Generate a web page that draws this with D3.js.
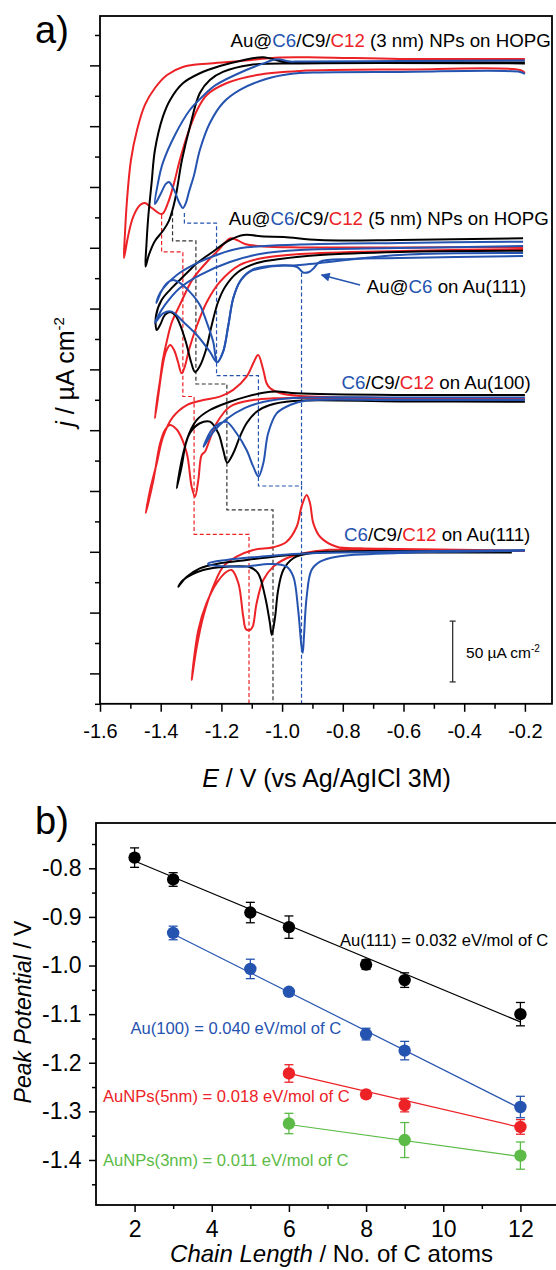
<!DOCTYPE html>
<html>
<head>
<meta charset="utf-8">
<script src="https://cdn.jsdelivr.net/npm/d3@7/dist/d3.min.js"></script>
<style>
  body { margin: 0; background: #fff; }
  text { font-family: "Liberation Sans", Arial, sans-serif; }
</style>
</head>
<body>
<div id="chart"></div>
<script>
var RED = "#ec2227", BLUE = "#2553b0", BLACK = "#000000", GREEN = "#5bbb46";

// ---------- panel a : cyclic voltammograms, [E / V, j / uA cm-2 (offset)] ----------
var nm3_C12 = [[-0.200,505.3],[-0.612,505.3],[-0.875,506.5],[-1.007,506.5],[-1.139,503.6],[-1.238,501.6],[-1.327,498.7],[-1.379,492.1],[-1.419,481.4],[-1.452,467.5],[-1.478,446.9],[-1.498,422.2],[-1.511,389.3],[-1.518,360.5],[-1.521,341.6],[-1.508,358.9],[-1.491,375.3],[-1.468,385.2],[-1.452,386.9],[-1.429,382.7],[-1.396,377.8],[-1.376,386.9],[-1.356,403.3],[-1.337,422.2],[-1.310,444.4],[-1.280,463.3],[-1.248,475.7],[-1.182,485.5],[-1.083,492.1],[-0.941,495.4],[-0.612,496.6],[-0.216,496.2],[-0.200,493.8]];
var nm3_C9 = [[-0.200,502.4],[-0.941,502.8],[-0.997,503.1],[-1.063,506.7],[-1.139,503.6],[-1.205,499.5],[-1.271,493.5],[-1.327,485.3],[-1.369,471.6],[-1.393,457.6],[-1.419,430.4],[-1.430,403.3],[-1.441,375.3],[-1.447,352.3],[-1.450,334.5],[-1.439,344.1],[-1.419,355.6],[-1.393,363.8],[-1.373,372.1],[-1.353,389.3],[-1.330,422.2],[-1.304,449.4],[-1.271,477.3],[-1.238,488.0],[-1.195,494.6],[-1.106,500.3],[-0.941,501.6],[-0.200,501.6]];
var nm3_C6 = [[-0.200,504.1],[-0.612,503.6],[-0.941,503.2],[-0.974,503.1],[-1.017,505.0],[-1.066,501.2],[-1.122,495.8],[-1.218,483.9],[-1.264,474.0],[-1.304,463.3],[-1.353,442.8],[-1.393,419.8],[-1.409,403.3],[-1.419,386.0],[-1.402,393.4],[-1.383,402.5],[-1.373,404.1],[-1.356,397.6],[-1.340,387.7],[-1.327,382.7],[-1.317,386.9],[-1.307,395.9],[-1.290,409.9],[-1.271,430.4],[-1.238,452.6],[-1.195,469.1],[-1.139,479.8],[-1.053,488.8],[-0.974,492.9],[-0.875,494.2],[-0.612,494.6],[-0.216,494.6],[-0.200,492.9]];

var nm5_C9 = [[-0.206,357.8],[-0.612,356.4],[-0.878,356.4],[-0.994,358.9],[-1.060,359.3],[-1.126,360.5],[-1.172,356.4],[-1.234,345.7],[-1.280,337.5],[-1.304,331.8],[-1.337,323.5],[-1.360,317.8],[-1.397,307.1],[-1.416,293.4],[-1.413,282.4],[-1.402,286.5],[-1.386,294.8],[-1.369,297.2],[-1.353,294.8],[-1.337,287.3],[-1.317,272.5],[-1.300,256.1],[-1.287,247.9],[-1.271,252.8],[-1.251,266.0],[-1.231,287.3],[-1.211,305.4],[-1.188,317.8],[-1.145,330.1],[-1.083,337.5],[-1.007,340.8],[-0.875,344.1],[-0.612,346.6],[-0.206,347.6]];
var nm5_C12 = [[-0.206,350.7],[-0.612,350.3],[-0.941,350.3],[-1.063,351.1],[-1.122,353.1],[-1.149,356.4],[-1.172,357.7],[-1.205,349.4],[-1.248,338.3],[-1.294,324.4],[-1.337,303.0],[-1.363,289.0],[-1.379,274.2],[-1.393,257.7],[-1.402,241.3],[-1.412,224.8],[-1.419,209.8],[-1.409,226.5],[-1.396,249.5],[-1.383,264.3],[-1.369,270.1],[-1.356,266.0],[-1.343,256.1],[-1.331,246.8],[-1.320,252.8],[-1.307,266.0],[-1.280,286.5],[-1.248,305.4],[-1.205,321.9],[-1.139,335.9],[-1.063,341.6],[-0.941,344.9],[-0.612,347.4],[-0.206,349.0]];
var nm5_C6 = [[-0.206,355.0],[-0.612,354.0],[-0.941,352.7],[-1.139,349.6],[-1.216,344.1],[-1.281,337.3],[-1.347,327.6],[-1.392,316.7],[-1.408,309.8],[-1.414,304.6],[-1.399,313.7],[-1.379,321.1],[-1.359,323.5],[-1.337,321.1],[-1.304,313.7],[-1.271,303.0],[-1.249,289.2],[-1.227,272.8],[-1.214,256.1],[-1.195,264.3],[-1.177,286.5],[-1.161,308.5],[-1.139,322.1],[-1.106,330.4],[-1.040,334.5],[-0.941,335.9],[-0.612,344.1],[-0.206,345.7]];
var sub111_C6 = [[-0.206,351.5],[-0.612,349.8],[-0.941,348.2],[-1.073,344.9],[-1.172,338.3],[-1.271,327.6],[-1.337,317.0],[-1.386,303.0],[-1.412,292.3],[-1.419,288.2],[-1.392,296.1],[-1.364,297.5],[-1.326,289.2],[-1.281,278.3],[-1.238,264.6],[-1.214,255.9],[-1.194,264.6],[-1.177,286.5],[-1.161,308.5],[-1.136,323.5],[-1.099,331.8],[-1.040,335.0],[-0.951,334.2],[-0.931,329.7],[-0.911,330.1],[-0.895,333.4],[-0.875,338.6],[-0.776,340.8],[-0.612,341.6],[-0.206,343.3]];

var au100_C12 = [[-0.200,226.1],[-0.612,226.5],[-0.941,228.1],[-1.007,230.6],[-1.040,234.7],[-1.051,238.6],[-1.062,249.5],[-1.079,261.9],[-1.095,255.0],[-1.117,244.0],[-1.161,233.1],[-1.205,227.6],[-1.260,224.8],[-1.314,220.7],[-1.359,211.1],[-1.392,194.7],[-1.413,172.8],[-1.435,150.8],[-1.449,131.9],[-1.424,159.1],[-1.402,189.2],[-1.386,200.2],[-1.369,204.3],[-1.356,202.6],[-1.342,198.8],[-1.314,181.0],[-1.298,153.5],[-1.287,145.3],[-1.276,159.1],[-1.265,179.6],[-1.254,182.3],[-1.243,189.2],[-1.216,205.7],[-1.172,219.3],[-1.095,224.8],[-1.029,226.2],[-0.612,225.7],[-0.200,225.3]];
var au100_C9 = [[-0.200,229.0],[-0.612,229.0],[-0.952,230.4],[-1.018,231.8],[-1.062,230.8],[-1.117,227.6],[-1.172,223.4],[-1.238,216.6],[-1.281,208.4],[-1.314,192.0],[-1.331,170.0],[-1.347,152.2],[-1.327,179.6],[-1.304,197.5],[-1.271,205.7],[-1.238,207.0],[-1.210,197.5],[-1.194,183.7],[-1.181,173.3],[-1.161,181.0],[-1.139,194.7],[-1.117,205.7],[-1.084,215.2],[-1.040,220.7],[-0.963,224.0],[-0.612,223.6],[-0.200,223.4]];
var au100_C6 = [[-0.200,226.9],[-0.612,226.9],[-0.964,226.5],[-1.063,223.2],[-1.122,218.3],[-1.183,209.2],[-1.227,198.5],[-1.259,186.4],[-1.232,200.2],[-1.205,205.7],[-1.183,206.8],[-1.150,197.5],[-1.117,183.7],[-1.095,170.0],[-1.078,161.9],[-1.062,172.8],[-1.046,197.5],[-1.018,213.9],[-0.974,220.7],[-0.919,224.4],[-0.612,224.8],[-0.200,224.8]];

var au111_C12 = [[-0.200,100.9],[-0.612,102.3],[-0.743,102.9],[-0.820,104.2],[-0.875,112.4],[-0.897,123.4],[-0.908,139.9],[-0.919,146.7],[-0.936,137.1],[-0.952,120.6],[-0.985,108.3],[-1.029,103.7],[-1.095,101.5],[-1.150,96.0],[-1.194,87.8],[-1.227,71.3],[-1.260,46.6],[-1.281,22.0],[-1.298,-5.4],[-1.276,35.7],[-1.249,57.7],[-1.216,74.1],[-1.183,83.6],[-1.166,85.0],[-1.144,74.1],[-1.128,46.6],[-1.119,36.3],[-1.106,35.7],[-1.097,38.4],[-1.084,57.7],[-1.062,76.8],[-1.029,87.8],[-0.985,94.7],[-0.930,98.8],[-0.853,101.5],[-0.612,101.1],[-0.200,100.7]];
var au111_C9 = [[-0.243,100.1],[-0.612,100.7],[-0.853,100.1],[-0.941,98.2],[-1.029,96.0],[-1.117,93.3],[-1.205,90.5],[-1.271,86.4],[-1.314,79.5],[-1.342,71.3],[-1.326,76.8],[-1.260,85.0],[-1.183,87.8],[-1.106,87.3],[-1.079,82.3],[-1.056,63.1],[-1.040,41.2],[-1.034,31.6],[-1.023,46.6],[-1.013,68.6],[-0.996,85.0],[-0.963,94.7],[-0.908,98.8],[-0.612,99.4],[-0.243,99.4]];
var au111_C6 = [[-0.200,101.5],[-0.612,100.3],[-0.853,99.3],[-0.963,98.2],[-1.073,96.0],[-1.183,93.3],[-1.243,90.5],[-1.243,89.6],[-1.128,87.8],[-1.040,90.0],[-0.985,87.8],[-0.963,79.5],[-0.947,52.1],[-0.936,22.0],[-0.932,17.0],[-0.928,30.2],[-0.919,63.1],[-0.903,85.0],[-0.875,91.9],[-0.820,96.0],[-0.612,99.0],[-0.200,100.7]];

// peak potentials (3 nm, 5 nm, Au(100), Au(111)) and the j levels of the dashed steps
var stepE_C12 = [-1.397, -1.327, -1.290, -1.109];
var stepJ_C12 = [377.0, 346.6, 227.7, 114.4, -25];
var stepE_C9 = [-1.361, -1.284, -1.182, -1.030];
var stepJ_C9 = [379.7, 355.6, 238.0, 134.4, -25];
var stepE_C6 = [-1.322, -1.216, -1.078, -0.936];
var stepJ_C6 = [378.6, 370.2, 244.8, 154.1, -25];
var sub111Drop = [[-0.936, 329.3], [-0.936, 154.1]];

var xTicksA = [-1.6, -1.4, -1.2, -1.0, -0.8, -0.6, -0.4, -0.2];
var xMinorA = [-1.5, -1.3, -1.1, -0.9, -0.7, -0.5, -0.3];
var yTicksA = [0, 50, 100, 150, 200, 250, 300, 350, 400, 450, 500];
var yMinorA = [-25, 25, 75, 125, 175, 225, 275, 325, 375, 425, 475, 525];

// ---------- panel b : peak potential vs chain length ----------
var au111_n = [2, 3, 5, 6, 8, 9, 12];
var au111_E = [-0.778, -0.823, -0.891, -0.921, -0.998, -1.030, -1.100];
var au111_err = [0.020, 0.014, 0.021, 0.023, 0.010, 0.015, 0.024];
var au100_n = [3, 5, 6, 8, 9, 12];
var au100_E = [-0.933, -1.007, -1.054, -1.141, -1.175, -1.291];
var au100_err = [0.014, 0.020, 0.006, 0.012, 0.019, 0.022];
var np5_n = [6, 8, 9, 12];
var np5_E = [-1.222, -1.265, -1.287, -1.332];
var np5_err = [0.018, 0.008, 0.014, 0.015];
var np3_n = [6, 9, 12];
var np3_E = [-1.325, -1.359, -1.391];
var np3_err = [0.021, 0.036, 0.028];

var fit111 = [[2, -0.785], [12, -1.116]];
var fit100 = [[3, -0.935], [12, -1.294]];
var fitNp5 = [[6, -1.222], [12, -1.333]];
var fitNp3 = [[6, -1.327], [12, -1.393]];

var xTicksB = [2, 4, 6, 8, 10, 12];
var xMinorB = [3, 5, 7, 9, 11];
var yTicksB = [-0.8, -0.9, -1.0, -1.1, -1.2, -1.3, -1.4];
var yMinorB = [-0.75, -0.85, -0.95, -1.05, -1.15, -1.25, -1.35, -1.45];

// ======================================================================
var svg = d3.select("#chart")
    .append("svg")
    .attr("width", 556)
    .attr("height", 1270);

svg.append("defs").append("clipPath")
    .attr("id", "clipA")
    .append("rect")
    .attr("x", 100).attr("y", 16)
    .attr("width", 452).attr("height", 688);

svg.select("defs").append("marker")
    .attr("id", "arrowBlue")
    .attr("viewBox", "0 0 10 10")
    .attr("refX", 9).attr("refY", 5)
    .attr("markerWidth", 7).attr("markerHeight", 6)
    .attr("markerUnits", "strokeWidth")
    .attr("orient", "auto")
    .append("path")
    .attr("d", "M0,0 L10,5 L0,10 z")
    .attr("fill", BLUE);

// ---------------- panel a ----------------
var xa = d3.scaleLinear().domain([-1.6, -0.1107]).range([100, 552]);
var ya = d3.scaleLinear().domain([-25, 540.6]).range([703.8, 16]);

var lineA = d3.line()
    .x(function(d) { return xa(d[0]); })
    .y(function(d) { return ya(d[1]); })
    .curve(d3.curveCatmullRom.alpha(0.5));

var plotA = svg.append("g").attr("clip-path", "url(#clipA)");

function steps(es, js) {
    var pts = [];
    for (var i = 0; i < es.length; i++) {
        pts.push([es[i], js[i]]);
        pts.push([es[i], js[i + 1]]);
    }
    return pts;
}

var dashLine = d3.line()
    .x(function(d) { return xa(d[0]); })
    .y(function(d) { return ya(d[1]); });

[[steps(stepE_C12, stepJ_C12), RED], [steps(stepE_C9, stepJ_C9), "#333"],
 [steps(stepE_C6, stepJ_C6), BLUE], [sub111Drop, BLUE]].forEach(function(s) {
    plotA.append("path")
        .attr("d", dashLine(s[0]))
        .attr("fill", "none")
        .attr("stroke", s[1])
        .attr("stroke-width", 1.2)
        .attr("stroke-dasharray", "4,2.5");
});

var curves = [
    [nm3_C12, RED], [nm3_C9, BLACK], [nm3_C6, BLUE],
    [nm5_C12, RED], [nm5_C9, BLACK], [nm5_C6, BLUE], [sub111_C6, BLUE],
    [au100_C12, RED], [au100_C9, BLACK], [au100_C6, BLUE],
    [au111_C12, RED], [au111_C9, BLACK], [au111_C6, BLUE]
];
curves.forEach(function(c) {
    plotA.append("path")
        .datum(c[0])
        .attr("fill", "none")
        .attr("stroke", c[1])
        .attr("stroke-width", 2)
        .attr("stroke-linejoin", "round")
        .attr("d", lineA);
});

// frame
svg.append("rect")
    .attr("x", 100).attr("y", 16)
    .attr("width", 452).attr("height", 687.8)
    .attr("fill", "none").attr("stroke", "#000").attr("stroke-width", 1.8);

function noDomain(g) { g.select(".domain").remove(); g.selectAll(".tick line").attr("stroke-width", 1.5); }

svg.append("g")
    .attr("transform", "translate(0,703.8)")
    .call(d3.axisBottom(xa).tickValues(xTicksA).tickSize(8).tickPadding(12.3)
        .tickFormat(function(d) { return d.toFixed(1); }))
    .call(noDomain)
    .selectAll("text").style("font-size", "20px").attr("fill", "#000");

svg.append("g")
    .attr("transform", "translate(0,703.8)")
    .call(d3.axisBottom(xa).tickValues(xMinorA).tickSize(5).tickFormat(""))
    .call(noDomain);

svg.append("g")
    .attr("transform", "translate(100,0)")
    .call(d3.axisLeft(ya).tickValues(yTicksA).tickSize(10).tickFormat(""))
    .call(noDomain);

svg.append("g")
    .attr("transform", "translate(100,0)")
    .call(d3.axisLeft(ya).tickValues(yMinorA).tickSize(5).tickFormat(""))
    .call(noDomain);

// axis titles
var xt = svg.append("text")
    .attr("x", 326.5).attr("y", 787)
    .attr("text-anchor", "middle")
    .style("font-size", "25px");
xt.append("tspan").style("font-style", "italic").text("E");
xt.append("tspan").text(" / V (vs Ag/AgICl 3M)");

var yt = svg.append("text")
    .attr("transform", "translate(74,372) rotate(-90)")
    .attr("text-anchor", "middle")
    .style("font-size", "25px");
yt.append("tspan").style("font-style", "italic").text("j");
yt.append("tspan").text(" / \u00b5A cm");
yt.append("tspan").attr("dy", -10).style("font-size", "15px").text("-2");

svg.append("text")
    .attr("x", 35).attr("y", 43)
    .style("font-size", "38px")
    .text("a)");

// labels inside panel a
function colourLabel(E, j, parts, size) {
    var t = svg.append("text")
        .attr("x", xa(E)).attr("y", ya(j))
        .style("font-size", size + "px");
    parts.forEach(function(p) {
        t.append("tspan").attr("fill", p[1]).text(p[0]);
    });
    return t;
}

colourLabel(-1.170, 515.2, [["Au@", BLACK], ["C6", BLUE], ["/C9/", BLACK], ["C12", RED], [" (3 nm) NPs on HOPG", BLACK]], 18.7);
colourLabel(-1.176, 368.8, [["Au@", BLACK], ["C6", BLUE], ["/C9/", BLACK], ["C12", RED], [" (5 nm) NPs on HOPG", BLACK]], 18.7);
colourLabel(-0.721, 313.1, [["Au@", BLACK], ["C6", BLUE], [" on Au(111)", BLACK]], 18.7);
colourLabel(-0.804, 233.6, [["C6", BLUE], ["/C9/", BLACK], ["C12", RED], [" on Au(100)", BLACK]], 18.7);
colourLabel(-0.796, 109.1, [["C6", BLUE], ["/C9/", BLACK], ["C12", RED], [" on Au(111)", BLACK]], 18.7);

// arrow to the Au@C6 on Au(111) feature
svg.append("line")
    .attr("x1", xa(-0.743)).attr("y1", ya(319.4))
    .attr("x2", xa(-0.870)).attr("y2", ya(327.6))
    .attr("stroke", BLUE).attr("stroke-width", 1.5)
    .attr("marker-end", "url(#arrowBlue)");

// 50 uA cm-2 scale bar
var barE = -0.438, barJ0 = -7, barLen = 50;
svg.append("line")
    .attr("x1", xa(barE)).attr("x2", xa(barE))
    .attr("y1", ya(barJ0)).attr("y2", ya(barJ0 + barLen))
    .attr("stroke", "#333").attr("stroke-width", 1.3);
[barJ0, barJ0 + barLen].forEach(function(v) {
    svg.append("line")
        .attr("x1", xa(barE) - 3).attr("x2", xa(barE) + 3)
        .attr("y1", ya(v)).attr("y2", ya(v))
        .attr("stroke", "#333").attr("stroke-width", 1.3);
});
var sb = svg.append("text")
    .attr("x", xa(-0.394)).attr("y", ya(12.7))
    .style("font-size", "15.5px");
sb.append("tspan").text("50 \u00b5A cm");
sb.append("tspan").attr("dy", -6).style("font-size", "10px").text("-2");

// ---------------- panel b ----------------
var xb = d3.scaleLinear().domain([1, 13]).range([96, 559]);
var yb = d3.scaleLinear().domain([-1.4926, -0.7068]).range([1205, 823]);

svg.append("rect")
    .attr("x", 96).attr("y", 823)
    .attr("width", 500).attr("height", 382)
    .attr("fill", "none").attr("stroke", "#000").attr("stroke-width", 1.8);

svg.append("g")
    .attr("transform", "translate(0,1205)")
    .call(d3.axisBottom(xb).tickValues(xTicksB).tickSize(7).tickPadding(8.7))
    .call(noDomain)
    .selectAll("text").style("font-size", "23px").attr("fill", "#000");

svg.append("g")
    .attr("transform", "translate(0,1205)")
    .call(d3.axisBottom(xb).tickValues(xMinorB).tickSize(4).tickFormat(""))
    .call(noDomain);

svg.append("g")
    .attr("transform", "translate(96,0)")
    .call(d3.axisLeft(yb).tickValues(yTicksB).tickSize(7).tickPadding(7.4)
        .tickFormat(function(d) { return d.toFixed(1); }))
    .call(noDomain)
    .selectAll("text").style("font-size", "23px").attr("fill", "#000");

svg.append("g")
    .attr("transform", "translate(96,0)")
    .call(d3.axisLeft(yb).tickValues(yMinorB).tickSize(4).tickFormat(""))
    .call(noDomain);

var lineB = d3.line()
    .x(function(d) { return xb(d[0]); })
    .y(function(d) { return yb(d[1]); });

var seriesB = [
    {n: au111_n, E: au111_E, err: au111_err, fit: fit111, color: BLACK},
    {n: au100_n, E: au100_E, err: au100_err, fit: fit100, color: BLUE},
    {n: np5_n, E: np5_E, err: np5_err, fit: fitNp5, color: RED},
    {n: np3_n, E: np3_E, err: np3_err, fit: fitNp3, color: GREEN}
];

seriesB.forEach(function(s) {
    var g = svg.append("g");
    g.append("path")
        .attr("d", lineB(s.fit))
        .attr("fill", "none")
        .attr("stroke", s.color)
        .attr("stroke-width", 1.2);
    s.n.forEach(function(n, i) {
        var cx = xb(n), top = yb(s.E[i] + s.err[i]), bot = yb(s.E[i] - s.err[i]);
        g.append("line").attr("x1", cx).attr("x2", cx).attr("y1", top).attr("y2", bot)
            .attr("stroke", s.color).attr("stroke-width", 1.3);
        [top, bot].forEach(function(yy) {
            g.append("line").attr("x1", cx - 4.5).attr("x2", cx + 4.5).attr("y1", yy).attr("y2", yy)
                .attr("stroke", s.color).attr("stroke-width", 1.3);
        });
        g.append("circle")
            .attr("cx", cx).attr("cy", yb(s.E[i]))
            .attr("r", 6.2)
            .attr("fill", s.color);
    });
});

function labelB(n, E, txt, color) {
    svg.append("text")
        .attr("x", xb(n)).attr("y", yb(E))
        .attr("fill", color)
        .style("font-size", "16.6px")
        .text(txt);
}
labelB(7.325, -0.9598, "Au(111) = 0.032 eV/mol of C", BLACK);
labelB(1.894, -1.1408, "Au(100) = 0.040 eV/mol of C", BLUE);
labelB(1.181, -1.280, "AuNPs(5nm) = 0.018 eV/mol of C", RED);
labelB(1.181, -1.4117, "AuNPs(3nm) = 0.011 eV/mol of C", GREEN);

var xtb = svg.append("text")
    .attr("x", 331.5).attr("y", 1262)
    .attr("text-anchor", "middle")
    .style("font-size", "24px");
xtb.append("tspan").style("font-style", "italic").text("Chain Length");
xtb.append("tspan").text(" / No. of C atoms");

var ytb = svg.append("text")
    .attr("transform", "translate(31,1012) rotate(-90)")
    .attr("text-anchor", "middle")
    .style("font-size", "23px");
ytb.append("tspan").style("font-style", "italic").text("Peak Potential");
ytb.append("tspan").text(" / V");

svg.append("text")
    .attr("x", 35).attr("y", 834)
    .style("font-size", "38px")
    .text("b)");
</script>
</body>
</html>
